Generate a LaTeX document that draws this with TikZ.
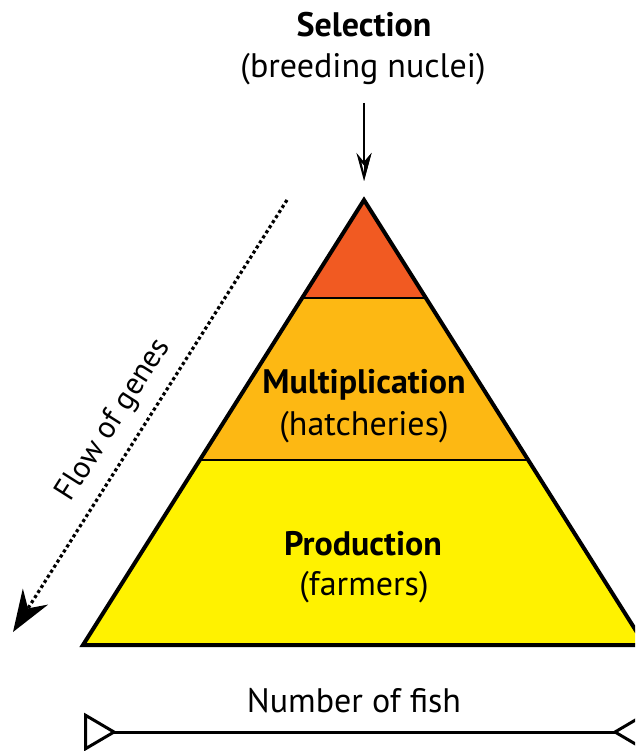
\documentclass[tikz,border=0pt]{standalone}
\usepackage{fontspec}
\setmainfont{PT Sans}
\usetikzlibrary{arrows.meta}
\definecolor{topred}{HTML}{F15A22}
\definecolor{midorange}{HTML}{FDB813}
\definecolor{lowyellow}{HTML}{FFF200}
\begin{document}
\begin{tikzpicture}[x=1pt,y=-1pt,
  lbl/.style={font=\fontsize{34}{40}\selectfont, anchor=base, inner sep=0pt},
  boldlbl/.style={lbl, font=\fontsize{34}{40}\selectfont\bfseries},
  tier/.style={draw=black, line width=2.5pt},
]
\useasboundingbox (0,0) rectangle (635,751);
\clip (0,0) rectangle (635,751);
% tiers
\coordinate (apex) at (364,200);
\coordinate (bl) at (83,645);
\coordinate (br) at (645,645);
\fill[lowyellow] (200,460) -- (528,460) -- (br) -- (bl) -- cycle;
\fill[midorange] (302,298) -- (426,298) -- (528,460) -- (200,460) -- cycle;
\fill[topred] (apex) -- (426,298) -- (302,298) -- cycle;
\draw[tier] (302,298) -- (426,298);
\draw[tier] (200,460) -- (528,460);
\draw[line width=4pt, line join=miter] (apex) -- (br) -- (bl) -- cycle;
% texts
\node[boldlbl] (sel) at (364,37) {Selection};
\node[lbl] (breed) at (363,78) {(breeding nuclei)};
\node[boldlbl] (mult) at (364,393) {Multiplication};
\node[lbl] (hatch) at (364,435) {(hatcheries)};
\node[boldlbl] (prod) at (363,555) {Production};
\node[lbl] (farm) at (364,595) {(farmers)};
\node[lbl] (num) at (354,712) {Number of fish};
% top arrow
\coordinate (arrtop) at (364,103);
\coordinate (arrbot) at (364,181);
\draw[line width=2.2pt, -{Stealth[length=28pt,width=15pt,open,inset=9pt]}] (arrtop) -- (arrbot);
\fill (364,181) -- (371.5,153) -- (364,162) -- cycle;
% flow of genes
\coordinate (flowstart) at (287,200);
\coordinate (flowend) at (13,632);
\draw[line width=3.2pt, dash pattern=on 3.2pt off 2.8pt, -{Stealth[length=42pt,width=30pt,inset=14pt,line width=0pt]}] (flowstart) -- (flowend);
\node[lbl, font=\fontsize{31}{36}\selectfont, anchor=center, rotate=57.6] (flow) at (114,420) {Flow of genes};
% number of fish arrow
\coordinate (nl) at (84,732);
\coordinate (nr) at (645,732);
\draw[line width=3pt, {Triangle[open,reversed,length=33pt,width=38pt]}-{Triangle[open,reversed,length=33pt,width=38pt]}] (nl) -- (nr);
\end{tikzpicture}
\end{document}
